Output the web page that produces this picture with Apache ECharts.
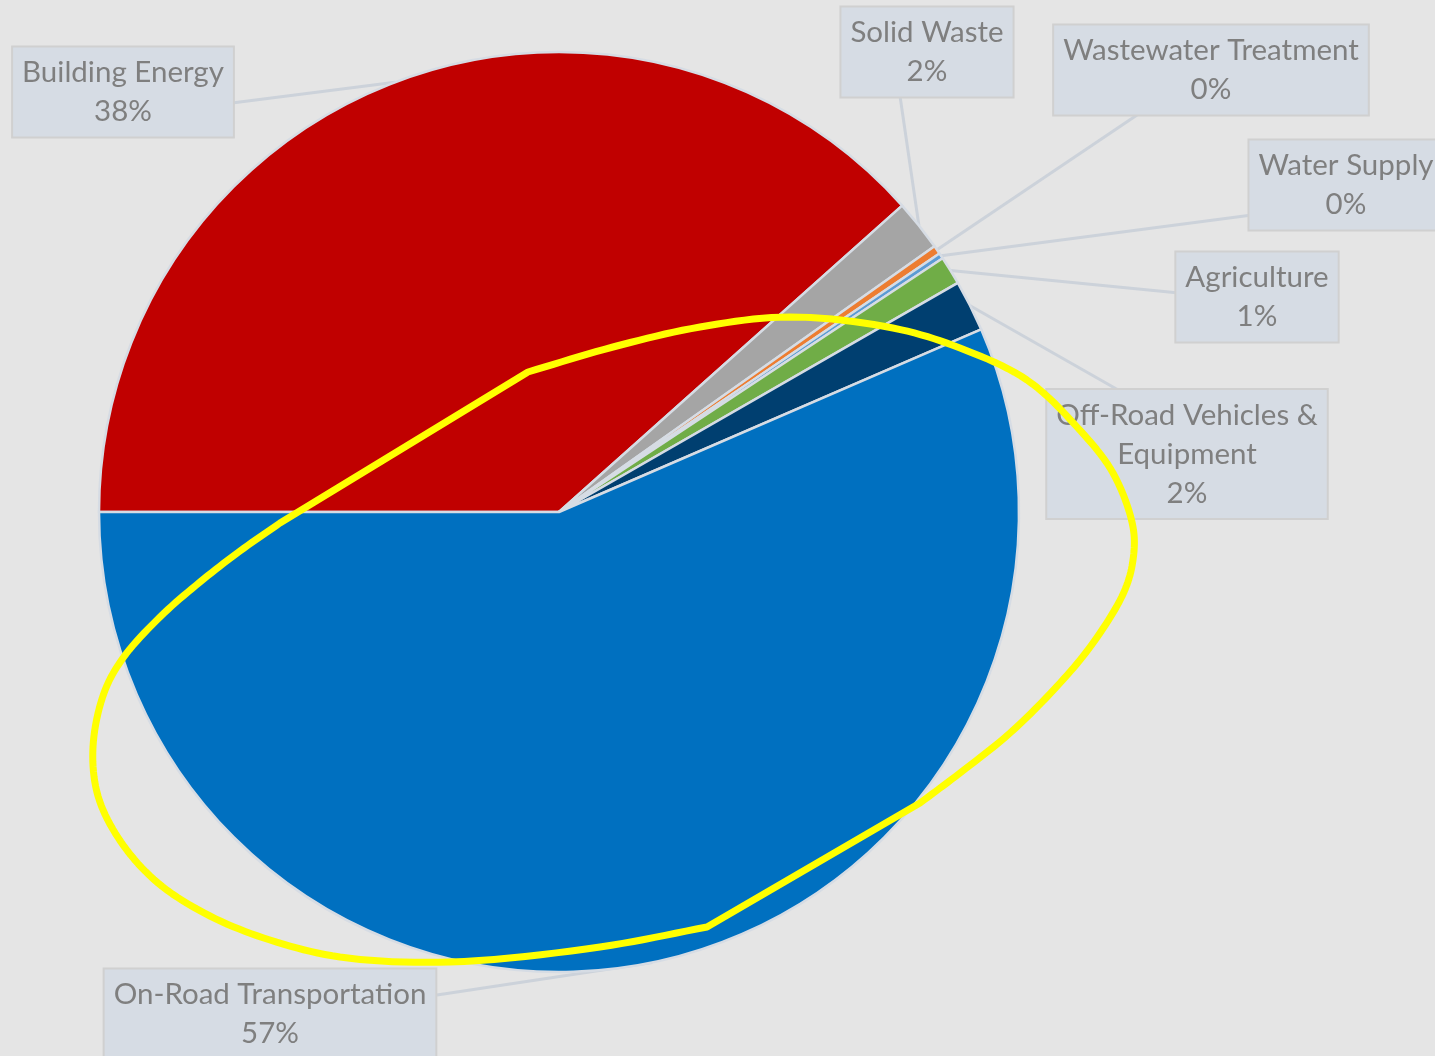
<!DOCTYPE html>
<html>
<head>
<meta charset="utf-8">
<script src="https://cdn.jsdelivr.net/npm/echarts@6/dist/echarts.min.js"></script>
<style>
  html, body { margin: 0; padding: 0; background: #e5e5e5; }
  #chart { width: 1435px; height: 1056px; }
</style>
</head>
<body>
<div id="chart"></div>
<script>
// slices in drawing order, clockwise from 9 o'clock
const categories = [
  "Building Energy",
  "Solid Waste",
  "Wastewater Treatment",
  "Water Supply",
  "Agriculture",
  "Off-Road Vehicles & Equipment",
  "On-Road Transportation",
];
const labelNames = [
  "Building Energy",
  "Solid Waste",
  "Wastewater Treatment",
  "Water Supply",
  "Agriculture",
  "Off-Road Vehicles &\nEquipment",
  "On-Road Transportation",
];
const shares = [38.4, 1.8, 0.3, 0.2, 1.0, 1.8, 56.5];
const colors = ["#c00000", "#a5a5a5", "#ed7d31", "#5b9bd5", "#70ad47", "#003f70", "#0070c0"];

// callout boxes: centre of box, and where the pointer meets the box
const labelPos = [
  [123, 92],
  [927, 52],
  [1211, 70],
  [1346, 185],
  [1257, 297],
  [1187, 454],
  [270, 1014],
];
const pointerEnd = [
  [232, 103],
  [900, 96],
  [1140, 113],
  [1252, 215],
  [1179, 293],
  [1120, 391],
  [437, 995],
];

// hand drawn yellow loop, traced in two curved pieces joined by straight runs
const loopTop = [
  [528, 372], [613, 347], [700, 327], [790, 317], [893, 328], [960, 348],
  [1027, 380], [1077, 427], [1113, 473], [1133, 527], [1133, 560],
  [1124, 592], [1093, 643], [1060, 683], [1010, 733], [960, 773], [920, 803],
];
const loopBottom = [
  [707, 927], [600, 947], [450, 962], [340, 957], [270, 940], [210, 916],
  [158, 883], [121, 842], [98, 796], [93, 747], [104, 693], [123, 658],
  [160, 617], [200, 582], [240, 551], [280, 523],
];

// centripetal catmull-rom so the pen stroke stays smooth without overshoot
function spline(pts, steps = 10) {
  const ext = [
    [2 * pts[0][0] - pts[1][0], 2 * pts[0][1] - pts[1][1]],
    ...pts,
    [2 * pts[pts.length - 1][0] - pts[pts.length - 2][0],
     2 * pts[pts.length - 1][1] - pts[pts.length - 2][1]],
  ];
  const knot = (a, b) => Math.pow(Math.hypot(b[0] - a[0], b[1] - a[1]), 0.5) || 1e-6;
  const lerp = (p, q, ta, tb, t) => [0, 1].map((k) => ((tb - t) * p[k] + (t - ta) * q[k]) / (tb - ta));
  const out = [];
  for (let i = 1; i < ext.length - 2; i++) {
    const [p0, p1, p2, p3] = [ext[i - 1], ext[i], ext[i + 1], ext[i + 2]];
    const t0 = 0, t1 = knot(p0, p1), t2 = t1 + knot(p1, p2), t3 = t2 + knot(p2, p3);
    for (let s = 0; s < steps; s++) {
      const t = t1 + (t2 - t1) * (s / steps);
      const a1 = lerp(p0, p1, t0, t1, t), a2 = lerp(p1, p2, t1, t2, t), a3 = lerp(p2, p3, t2, t3, t);
      const b1 = lerp(a1, a2, t0, t2, t), b2 = lerp(a2, a3, t1, t3, t);
      out.push(lerp(b1, b2, t1, t2, t));
    }
  }
  out.push(pts[pts.length - 1]);
  return out;
}

const loopPath = spline(loopTop).concat(spline(loopBottom));

const chart = echarts.init(document.getElementById("chart"));

chart.setOption({
  backgroundColor: "#e5e5e5",
  animation: false,
  series: [
    {
      type: "pie",
      center: [559, 512],
      radius: 460,
      startAngle: 180,
      clockwise: true,
      avoidLabelOverlap: false,
      percentPrecision: 0,
      emphasis: { disabled: true },
      itemStyle: {
        borderColor: "#d6dce4",
        borderWidth: 2.5,
      },
      data: categories.map((name, i) => ({
        name,
        value: shares[i],
        itemStyle: { color: colors[i] },
      })),
      label: {
        show: true,
        position: "outside",
        formatter: (p) => labelNames[p.dataIndex] + "\n" + p.percent + "%",
        color: "#7f7f7f",
        fontFamily: "Lato",
        fontSize: 29.5,
        lineHeight: 39,
        align: "center",
        backgroundColor: "#d6dce4",
        borderColor: "#d0d0d0",
        borderWidth: 2,
        padding: [10, 9, 1, 9],
      },
      labelLine: {
        show: true,
        length: 10,
        length2: 10,
        lineStyle: { color: "#ccd2da", width: 3 },
      },
      labelLayout: (p) => {
        const i = p.dataIndex;
        const out = {
          x: labelPos[i][0],
          y: labelPos[i][1],
          align: "center",
          verticalAlign: "middle",
        };
        if (p.labelLinePoints && p.labelLinePoints.length) {
          out.labelLinePoints = [p.labelLinePoints[0], pointerEnd[i]];
        }
        return out;
      },
    },
  ],
  graphic: [
    {
      type: "polygon",
      z: 100,
      silent: true,
      shape: { points: loopPath },
      style: { fill: "none", stroke: "#ffff00", lineWidth: 7, lineJoin: "round" },
    },
  ],
});
</script>
</body>
</html>
